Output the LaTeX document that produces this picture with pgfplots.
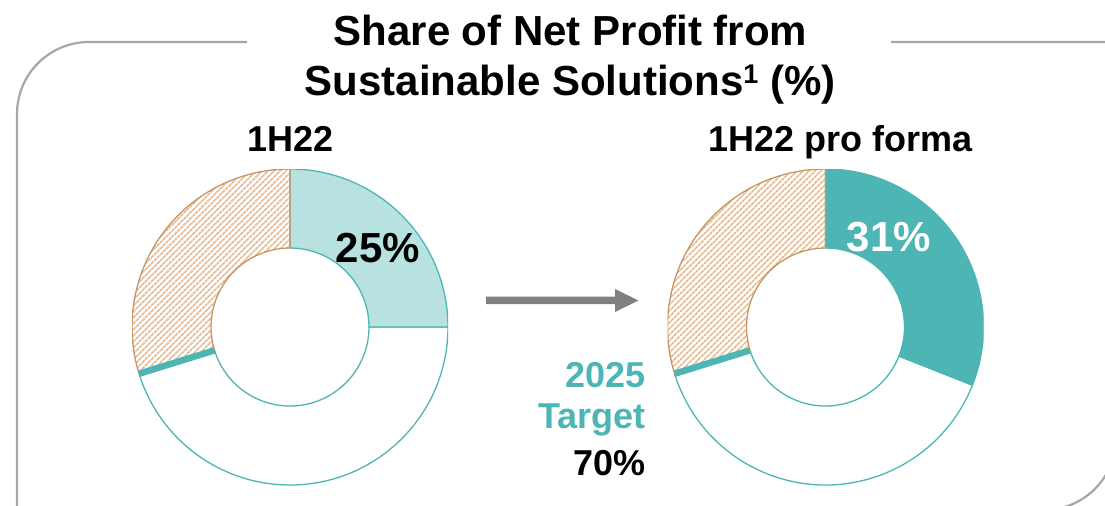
\documentclass[border=0pt]{standalone}
\usepackage{fontspec}
\setmainfont{Liberation Sans}
\usepackage{pgfplots}
\pgfplotsset{compat=1.18}
\usepackage{pgfplotstable}
\usetikzlibrary{patterns.meta}

\definecolor{teal}{HTML}{4DB6B4}
\definecolor{lightteal}{HTML}{B8E2E0}
\definecolor{hatch}{HTML}{E4B58B}
\definecolor{hatchedge}{HTML}{C8955F}
\definecolor{framegray}{HTML}{A6A6A8}
\definecolor{arrowgray}{HTML}{808080}

% share of net profit (%), and 2025 target (%)
\pgfplotstableread{
period share target
1H22 25 70
1H22pf 31 70
}\npdata
\pgfplotstablegetelem{0}{share}\of\npdata \let\shareA\pgfplotsretval
\pgfplotstablegetelem{1}{share}\of\npdata \let\shareB\pgfplotsretval
\pgfplotstablegetelem{0}{target}\of\npdata \let\target\pgfplotsretval

\def\Rout{158bp}
\def\Rin{79bp}
% ring segment between two percentages, clockwise from 12 o'clock
\newcommand{\donutseg}[3][]{%
  \path[shift={(axis cs:0,0)}, #1]
    ({90-3.6*#2}:\Rout) arc[start angle={90-3.6*#2}, end angle={90-3.6*#3}, radius=\Rout]
    -- ({90-3.6*#3}:\Rin) arc[start angle={90-3.6*#3}, end angle={90-3.6*#2}, radius=\Rin]
    -- cycle;}

\pgfplotsset{donutaxis/.style={scale only axis, hide axis, anchor=center,
  width=316bp, height=316bp, xmin=-1, xmax=1, ymin=-1, ymax=1}}
\tikzset{hatched/.style={draw=hatchedge, line width=1.3bp,
  pattern={Lines[angle=45, distance=3.9bp, line width=1.8bp]}, pattern color=hatch}}

\begin{document}
\begin{tikzpicture}
% left donut: 1H22
\begin{axis}[donutaxis, at={(290bp,-327bp)}]
  \donutseg[draw=teal, line width=1.3bp, fill=white]{\shareA}{\target}
  \donutseg[draw=teal, line width=1.3bp, fill=lightteal]{0}{\shareA}
  \donutseg[hatched]{\target}{100}
  \draw[teal, line width=6.5bp, shift={(axis cs:0,0)}]
    ({90-3.6*\target-0.8}:\Rin) -- ({90-3.6*\target-0.8}:\Rout);
\end{axis}
% right donut: 1H22 pro forma
\begin{axis}[donutaxis, at={(825.5bp,-327bp)}]
  \donutseg[draw=teal, line width=1.3bp, fill=white]{\shareB}{\target}
  \donutseg[draw=teal, line width=1.3bp, fill=teal]{0}{\shareB}
  \donutseg[hatched]{\target}{100}
  \draw[teal, line width=6.5bp, shift={(axis cs:0,0)}]
    ({90-3.6*\target-0.8}:\Rin) -- ({90-3.6*\target-0.8}:\Rout);
\end{axis}

\begin{scope}[x=1bp, y=-1bp]
  % frame with two rounded corners, broken by the title
  \draw[framegray, line width=2.2bp] (247,42) -- (89,42) arc[start angle=90, end angle=180, radius=72bp] -- (17,520);
  \draw[framegray, line width=2.2bp] (891,42) -- (1116,42) -- (1116,438) arc[start angle=0, end angle=-90, radius=72bp] -- (900,510);
  % title
  \node[anchor=base, inner sep=0pt, font=\fontsize{42bp}{50bp}\selectfont\bfseries] at (570.5,45) {Share of Net Profit from};
  \node[anchor=base, inner sep=0pt, font=\fontsize{42bp}{50bp}\selectfont\bfseries] at (570,95)
    {Sustainable Solutions\raisebox{12bp}{\fontsize{27bp}{27bp}\selectfont\bfseries 1} (\%)};
  % panel headings
  \node[anchor=base, inner sep=0pt, font=\fontsize{36bp}{42bp}\selectfont\bfseries] at (290.5,151) {1H22};
  \node[anchor=base, inner sep=0pt, font=\fontsize{36bp}{42bp}\selectfont\bfseries] at (841,151) {1H22 pro forma};
  % value labels
  \node[anchor=base, inner sep=0pt, font=\fontsize{42bp}{50bp}\selectfont\bfseries] at (378,262) {\shareA\%};
  \node[anchor=base, inner sep=0pt, text=white, font=\fontsize{42bp}{50bp}\selectfont\bfseries] at (889,251) {\shareB\%};
  % arrow
  \fill[arrowgray] (486,296.5) -- (615,296.5) -- (615,289) -- (638.5,300.5) -- (615,312) -- (615,304) -- (486,304) -- cycle;
  % target text
  \node[anchor=base east, inner sep=0pt, text=teal, font=\fontsize{36bp}{42bp}\selectfont\bfseries] at (646,387) {2025};
  \node[anchor=base east, inner sep=0pt, text=teal, font=\fontsize{36bp}{42bp}\selectfont\bfseries] at (646,428) {Target};
  \node[anchor=base east, inner sep=0pt, font=\fontsize{36bp}{42bp}\selectfont\bfseries] at (646,475) {\target\%};
\end{scope}
\pgfresetboundingbox
\useasboundingbox (0,0) rectangle (1105bp,-506bp);
\end{tikzpicture}
\end{document}
